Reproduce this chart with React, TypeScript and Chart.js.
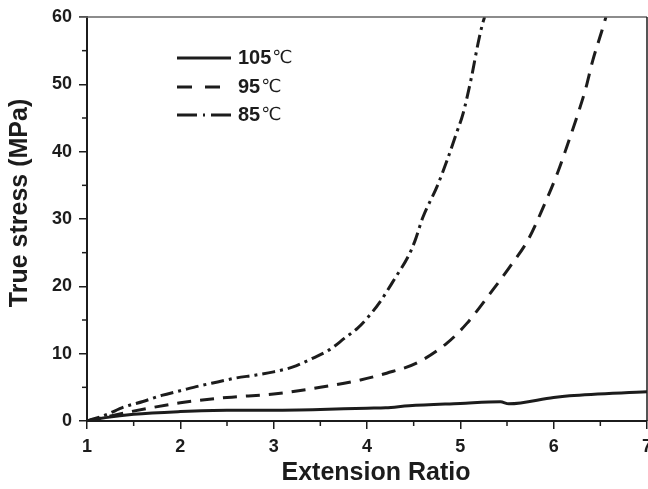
import React, { useEffect, useRef } from "react";
import { Chart, registerables } from "chart.js";

Chart.register(...registerables);

// ---- data ----
const xTicks = [1, 2, 3, 4, 5, 6, 7];
const yTicks = [0, 10, 20, 30, 40, 50, 60];
const seriesLabels = ["105", "95", "85"];
const unit = "℃";

const x105 = [1, 1.2, 1.5, 2, 2.5, 3, 3.5, 4, 4.2, 4.45, 5, 5.43, 5.52, 6, 6.17, 7];
const y105 = [0, 0.5, 1.0, 1.4, 1.6, 1.6, 1.7, 1.9, 1.95, 2.25, 2.6, 2.85, 2.55, 3.5, 3.75, 4.35];

const x95 = [1, 1.2, 1.4, 1.7, 2, 2.5, 3, 3.5, 3.93, 4.21, 4.53, 4.86, 5.07, 5.35, 5.53, 5.73, 5.89, 6.04, 6.14, 6.25, 6.34, 6.42, 6.52, 6.56];
const y95 = [0, 0.6, 1.2, 2.0, 2.7, 3.5, 4.0, 5.0, 6.1, 7.1, 8.6, 11.6, 14.5, 19.5, 22.9, 27.0, 31.8, 36.8, 40.7, 45.2, 49.2, 53.6, 58.1, 60];

const x85 = [1, 1.2, 1.4, 1.6, 1.8, 2, 2.2, 2.4, 2.6, 2.8, 3, 3.2, 3.4, 3.6, 3.76, 3.9, 4.01, 4.14, 4.3, 4.44, 4.51, 4.6, 4.75, 4.86, 4.96, 5.03, 5.12, 5.19, 5.24, 5.26];
const y85 = [0, 0.9, 2.1, 2.9, 3.8, 4.5, 5.2, 5.8, 6.4, 6.8, 7.3, 8.0, 9.2, 10.6, 12.3, 13.8, 15.4, 17.7, 21.2, 24.4, 26.6, 30.3, 34.8, 38.8, 42.8, 45.7, 51.1, 56.1, 59.1, 60];

const FONT = "'Liberation Sans', Arial, Helvetica, sans-serif";
const INK = "#1c1c1c";

const toPts = (xs: number[], ys: number[]) => xs.map((x, i) => ({ x, y: ys[i] }));

const dashes: number[][] = [[], [14, 9], [13, 5, 3, 5]];
const legendDashes: number[][] = [[], [15, 13], [20, 6, 2, 6]];

const decorPlugin = {
  id: "decor",
  afterDraw(chart: any) {
    const ctx = chart.ctx as CanvasRenderingContext2D;
    const { left, right, top, bottom } = chart.chartArea;
    const xs = chart.scales.x;
    const ys = chart.scales.y;
    ctx.save();
    // top border (grey) and right border
    ctx.lineWidth = 1.5;
    ctx.strokeStyle = "#666";
    ctx.beginPath();
    ctx.moveTo(left - 8, top);
    ctx.lineTo(right, top);
    ctx.stroke();
    ctx.strokeStyle = INK;
    ctx.beginPath();
    ctx.moveTo(right, top);
    ctx.lineTo(right, bottom);
    ctx.stroke();
    // minor ticks
    ctx.lineWidth = 1.5;
    for (let i = 0; i < xTicks.length - 1; i++) {
      const v = (xTicks[i] + xTicks[i + 1]) / 2;
      const px = xs.getPixelForValue(v);
      ctx.beginPath();
      ctx.moveTo(px, bottom);
      ctx.lineTo(px, bottom + 5);
      ctx.stroke();
    }
    for (let i = 0; i < yTicks.length - 1; i++) {
      const v = (yTicks[i] + yTicks[i + 1]) / 2;
      const py = ys.getPixelForValue(v);
      ctx.beginPath();
      ctx.moveTo(left, py);
      ctx.lineTo(left - 5, py);
      ctx.stroke();
    }
    // axis titles
    ctx.fillStyle = INK;
    ctx.font = `bold 25px ${FONT}`;
    ctx.textAlign = "center";
    ctx.textBaseline = "middle";
    ctx.fillText("Extension Ratio", 376, 473);
    ctx.save();
    ctx.translate(20, 203);
    ctx.rotate(-Math.PI / 2);
    ctx.fillText("True stress (MPa)", 0, 0);
    ctx.restore();
    // legend
    const ly = [58, 87, 115];
    for (let i = 0; i < seriesLabels.length; i++) {
      ctx.strokeStyle = INK;
      ctx.lineWidth = 3;
      ctx.setLineDash(legendDashes[i]);
      ctx.beginPath();
      ctx.moveTo(177, ly[i]);
      ctx.lineTo(231, ly[i]);
      ctx.stroke();
      ctx.setLineDash([]);
      ctx.textAlign = "left";
      ctx.textBaseline = "middle";
      ctx.font = `bold 20px ${FONT}`;
      ctx.fillText(seriesLabels[i], 238, ly[i]);
      const w = ctx.measureText(seriesLabels[i]).width;
      ctx.font = `18px 'DejaVu Sans', ${FONT}`;
      ctx.fillText(unit, 238 + w + 1, ly[i]);
    }
    ctx.restore();
  },
};

export default function App() {
  const ref = useRef<HTMLCanvasElement | null>(null);
  useEffect(() => {
    if (!ref.current) return;
    const mk = (xs: number[], ys: number[], i: number) => ({
      label: seriesLabels[i] + unit,
      data: toPts(xs, ys),
      borderColor: INK,
      borderWidth: 3,
      borderDash: dashes[i],
      pointRadius: 0,
      fill: false,
      cubicInterpolationMode: "monotone" as const,
    });
    const chart = new Chart(ref.current, {
      type: "line",
      data: {
        datasets: [mk(x105, y105, 0), mk(x95, y95, 1), mk(x85, y85, 2)],
      },
      options: {
        animation: false,
        responsive: false,
        layout: { padding: { top: 17, right: 1, left: 0, bottom: 0 } },
        plugins: { legend: { display: false }, tooltip: { enabled: false } },
        scales: {
          x: {
            type: "linear",
            min: 1,
            max: 7,
            afterBuildTicks: (s: any) => {
              s.ticks = xTicks.map((v) => ({ value: v }));
            },
            ticks: {
              color: INK,
              font: { family: FONT, size: 18, weight: "bold" },
              padding: 7,
              maxRotation: 0,
              autoSkip: false,
            },
            grid: { display: true, drawOnChartArea: false, drawTicks: true, tickLength: 8, color: INK, lineWidth: 1.5 },
            border: { display: true, color: INK, width: 2 },
            afterFit: (s: any) => {
              s.height = 68;
              s.paddingLeft = 0;
              s.paddingRight = 0;
            },
          },
          y: {
            type: "linear",
            min: 0,
            max: 60,
            afterBuildTicks: (s: any) => {
              s.ticks = yTicks.map((v) => ({ value: v }));
            },
            ticks: {
              color: INK,
              font: { family: FONT, size: 18, weight: "bold" },
              padding: 7,
              autoSkip: false,
            },
            grid: { display: true, drawOnChartArea: false, drawTicks: true, tickLength: 8, color: INK, lineWidth: 1.5 },
            border: { display: true, color: INK, width: 2 },
            afterFit: (s: any) => {
              s.width = 87;
              s.paddingTop = 0;
              s.paddingBottom = 0;
            },
          },
        },
      },
      plugins: [decorPlugin],
    });
    return () => chart.destroy();
  }, []);
  return (
    <div style={{ position: "fixed", left: 0, top: 0, width: 648, height: 489, background: "#fff" }}>
      <canvas ref={ref} width={648} height={489} style={{ display: "block" }} />
    </div>
  );
}
